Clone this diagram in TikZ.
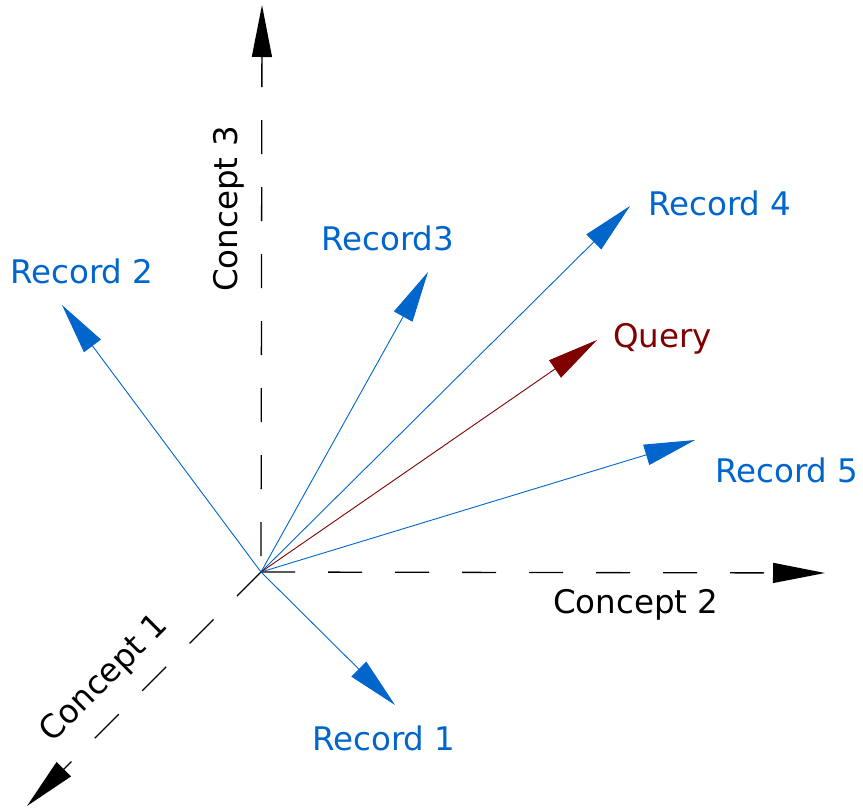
\documentclass[tikz,border=0pt]{standalone}
\usepackage{fontspec}
\setmainfont{DejaVu Sans}
\usetikzlibrary{arrows.meta}
\definecolor{recblue}{RGB}{0,102,204}
\definecolor{qred}{RGB}{128,0,0}
\tikzset{
  lbl/.style={font=\fontsize{32.5}{39}\selectfont, inner sep=0pt},
  axis/.style={black, line width=1.3pt, dash pattern=on 34pt off 33pt,
    -{Triangle[length=52pt,width=20pt]}},
  vec/.style={line width=0.9pt, -{Triangle[length=51pt,width=21pt]}},
}
\begin{document}
\begin{tikzpicture}[x=1pt,y=-1pt]
  \useasboundingbox (0,0) rectangle (863,807);
  % origin and vector tips
  \coordinate (O) at (261,572);
  \coordinate (c1) at (27,806);
  \coordinate (c2) at (825,573);
  \coordinate (c3) at (262,5);
  \coordinate (r1) at (395,705);
  \coordinate (r2) at (62,305);
  \coordinate (r3) at (428,272);
  \coordinate (r4) at (630,206);
  \coordinate (r5) at (695,440);
  \coordinate (q) at (597,340);

  % concept axes
  \draw[axis, dash phase=51pt] (O) -- (c3);
  \draw[axis] (O) -- (c2);
  \draw[axis] (O) -- (c1);

  % record vectors and query
  \draw[vec, recblue] (O) -- (r1);
  \draw[vec, recblue] (O) -- (r2);
  \draw[vec, recblue] (O) -- (r3);
  \draw[vec, recblue] (O) -- (r4);
  \draw[vec, recblue] (O) -- (r5);
  \draw[vec, qred] (O) -- (q);

  % labels
  \node[lbl, anchor=base west, recblue] (l1) at (312,750) {Record 1};
  \node[lbl, anchor=base west, recblue] (l2) at (10,283) {Record 2};
  \node[lbl, anchor=base west, recblue] (l3) at (321,250) {Record3};
  \node[lbl, anchor=base west, recblue] (l4) at (648,215) {Record 4};
  \node[lbl, anchor=base west, recblue] (l5) at (715,482) {Record 5};
  \node[lbl, anchor=base west, qred] (lq) at (613,347) {Query};
  \node[lbl, anchor=base west] (lc2) at (553,613) {Concept 2};
  \node[lbl, rotate=90] (lc3) at (229,209) {Concept 3};
  \node[lbl, rotate=45] (lc1) at (105,679) {Concept 1};
\end{tikzpicture}
\end{document}
